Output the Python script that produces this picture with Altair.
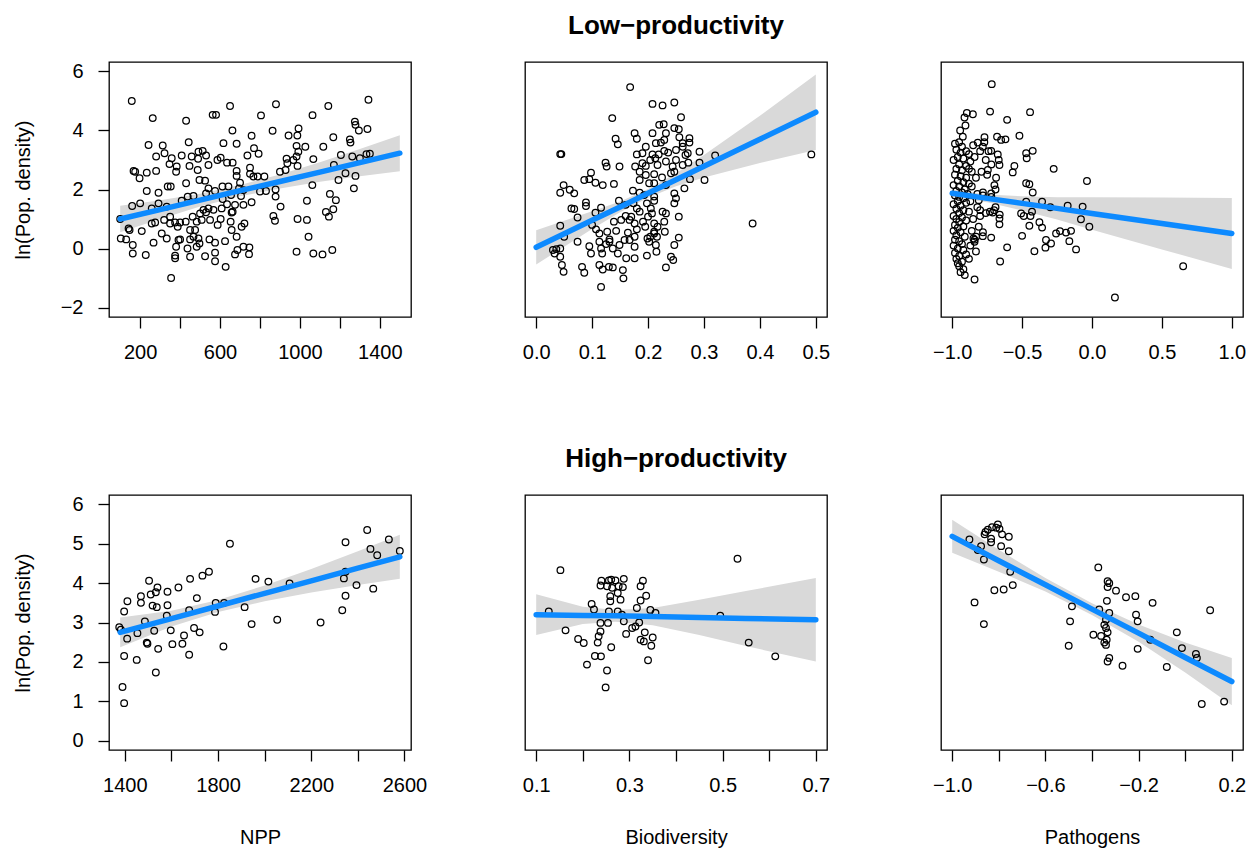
import altair as alt
import pandas as pd

FONT = "Liberation Sans"
BLUE = "#0D8AFF"
BAND = "#D9D9D9"

# ---------------- Low productivity: NPP ----------------
low_npp = [
    (158, 5.0), (650, 4.83), (880, 4.89), (1142, 4.83), (1343, 5.04), (263, 4.42), (430, 4.33),
    (563, 4.53), (580, 4.53), (805, 4.51), (1063, 4.52), (1275, 4.3), (1278, 4.19), (662, 4.0),
    (863, 3.99), (993, 4.07), (987, 3.83), (943, 3.83), (758, 3.82), (1167, 3.77), (1250, 3.7),
    (1295, 4.0), (1338, 4.05), (1253, 3.59), (242, 3.51), (313, 3.49), (443, 3.6), (617, 3.57),
    (683, 3.55), (770, 3.4), (793, 3.21), (983, 3.48), (1027, 3.45), (1117, 3.45), (992, 3.28),
    (983, 3.12), (1067, 3.03), (967, 3.0), (1205, 3.17), (1262, 3.12), (1300, 3.06), (1333, 3.2),
    (1350, 3.21), (322, 3.23), (280, 3.12), (358, 3.06), (408, 3.15), (458, 3.12), (492, 3.28),
    (513, 3.31), (530, 3.15), (490, 3.04), (347, 2.86), (383, 2.78), (447, 2.8), (488, 2.66),
    (542, 2.83), (587, 3.0), (603, 3.08), (635, 2.91), (663, 2.91), (737, 3.15), (750, 2.74),
    (683, 2.63), (683, 2.46), (750, 2.53), (933, 3.04), (937, 2.89), (900, 2.6), (928, 2.66),
    (988, 2.8), (1170, 2.83), (1228, 2.55), (1278, 2.46), (1193, 2.32), (1270, 2.04), (1150, 1.85),
    (1180, 1.64), (167, 2.63), (175, 2.6), (197, 2.38), (233, 2.57), (280, 2.63), (380, 2.6),
    (430, 2.21), (338, 2.1), (353, 2.1), (233, 1.95), (292, 1.89), (497, 2.32), (525, 2.3),
    (542, 2.04), (530, 1.87), (575, 1.95), (612, 2.1), (642, 2.1), (700, 2.23), (767, 2.44),
    (788, 2.44), (822, 2.44), (695, 2.04), (717, 1.98), (830, 1.95), (878, 2.0), (878, 1.76),
    (903, 1.42), (1062, 2.15), (1035, 1.62), (867, 1.1), (875, 0.94), (988, 1.0), (1035, 0.97),
    (1043, 0.4), (1130, 1.24), (1167, 1.33), (1145, 1.08), (160, 1.44), (200, 1.53), (258, 1.36),
    (292, 1.53), (333, 1.42), (408, 1.62), (438, 1.76), (467, 1.78), (613, 1.68), (655, 1.81),
    (705, 1.78), (717, 1.48), (758, 1.57), (663, 1.25), (675, 1.48), (100, 1.0), (142, 0.68),
    (147, 0.63), (103, 0.34), (130, 0.31), (163, 0.12), (163, -0.17), (208, 0.59), (228, -0.22),
    (258, 0.85), (275, 0.88), (267, 0.2), (308, 0.51), (333, 0.34), (320, 0.97), (350, 0.85),
    (375, 0.88), (350, 1.08), (400, 0.88), (428, 0.91), (388, 0.74), (392, 0.29), (380, 0.06),
    (375, -0.24), (375, -0.33), (355, -1.0), (400, 0.31), (437, 0.0), (450, -0.28), (450, 0.31),
    (467, 0.4), (450, 0.63), (475, 0.63), (463, 1.08), (483, 0.91), (500, 1.19), (508, 0.97),
    (517, 1.31), (530, 1.23), (542, 1.36), (550, 0.97), (492, 0.34), (497, 0.17), (483, 0.06),
    (525, -0.26), (547, 0.31), (575, 0.2), (575, -0.14), (575, -0.43), (628, -0.62), (588, 0.8),
    (603, 1.0), (567, 1.31), (625, 0.25), (653, 0.91), (658, 0.63), (683, 0.4), (675, -0.2),
    (687, -0.05), (717, 0.06), (747, 0.04), (745, -0.19), (722, 0.85), (708, 0.74), (608, 1.36),
    (635, 1.5), (658, 1.22), (800, 1.93), (983, -0.11), (1067, -0.17), (1113, -0.2), (1162, -0.05),
]
low_npp_fit_x = [100, 300, 500, 700, 900, 1100, 1300, 1500]
low_npp_fit_y = [1.00, 1.32, 1.64, 1.96, 2.27, 2.59, 2.91, 3.23]
low_npp_fit_lo = [0.55, 1.00, 1.42, 1.77, 2.03, 2.26, 2.45, 2.62]
low_npp_fit_hi = [1.45, 1.64, 1.86, 2.15, 2.51, 2.92, 3.37, 3.84]

# ---------------- Low productivity: Biodiversity ----------------
low_bio = [
    (0.168, 5.47), (0.208, 4.9), (0.226, 4.85), (0.247, 4.95), (0.259, 4.45), (0.136, 4.42),
    (0.22, 4.19), (0.228, 4.21), (0.247, 4.08), (0.255, 4.04), (0.176, 3.91), (0.18, 3.72),
    (0.208, 3.91), (0.142, 3.72), (0.146, 3.53), (0.232, 3.91), (0.229, 3.68), (0.214, 3.57),
    (0.223, 3.59), (0.256, 3.77), (0.262, 3.57), (0.274, 3.74), (0.274, 3.59), (0.196, 3.45),
    (0.18, 3.19), (0.19, 3.23), (0.208, 3.19), (0.219, 3.19), (0.229, 3.31), (0.236, 3.25),
    (0.25, 3.34), (0.262, 3.45), (0.267, 3.17), (0.271, 3.23), (0.292, 3.28), (0.32, 3.15),
    (0.492, 3.19), (0.043, 3.2), (0.045, 3.2), (0.124, 2.91), (0.126, 2.78), (0.149, 2.78),
    (0.177, 2.78), (0.19, 2.89), (0.196, 2.8), (0.204, 3.0), (0.213, 3.06), (0.217, 2.83),
    (0.232, 2.95), (0.244, 2.78), (0.25, 3.0), (0.262, 2.83), (0.272, 2.91), (0.292, 2.91),
    (0.098, 2.57), (0.086, 2.32), (0.095, 2.35), (0.106, 2.23), (0.119, 2.15), (0.139, 2.19),
    (0.185, 2.6), (0.185, 2.32), (0.196, 2.49), (0.202, 2.21), (0.211, 2.52), (0.211, 2.21),
    (0.225, 2.41), (0.241, 2.55), (0.247, 2.6), (0.275, 2.35), (0.301, 2.32), (0.232, 2.15),
    (0.265, 2.04), (0.049, 2.15), (0.043, 1.89), (0.06, 1.99), (0.068, 1.87), (0.173, 1.96),
    (0.185, 1.89), (0.193, 1.81), (0.211, 1.76), (0.198, 1.53), (0.211, 1.62), (0.247, 1.87),
    (0.247, 1.53), (0.25, 1.7), (0.089, 1.56), (0.089, 1.44), (0.063, 1.36), (0.068, 1.34),
    (0.074, 1.05), (0.106, 1.21), (0.116, 1.38), (0.148, 1.62), (0.16, 1.48), (0.174, 1.53),
    (0.18, 1.36), (0.185, 1.25), (0.205, 1.36), (0.207, 1.19), (0.2, 1.08), (0.226, 1.25),
    (0.232, 1.19), (0.255, 1.08), (0.17, 1.08), (0.167, 0.97), (0.16, 1.1), (0.139, 0.91),
    (0.152, 0.97), (0.176, 0.85), (0.18, 0.65), (0.191, 0.91), (0.195, 0.74), (0.211, 0.85),
    (0.211, 0.57), (0.217, 0.74), (0.229, 0.91), (0.23, 0.57), (0.043, 0.77), (0.05, 0.4),
    (0.1, 0.8), (0.107, 0.65), (0.113, 0.51), (0.127, 0.57), (0.131, 0.31), (0.143, 0.6),
    (0.164, 0.54), (0.167, 0.29), (0.176, 0.4), (0.199, 0.34), (0.202, 0.23), (0.204, 0.4),
    (0.211, 0.51), (0.216, 0.4), (0.255, 0.37), (0.074, 0.23), (0.113, 0.23), (0.116, 0.0),
    (0.118, -0.17), (0.125, 0.15), (0.131, 0.23), (0.137, 0.0), (0.146, -0.17), (0.149, 0.12),
    (0.158, 0.29), (0.176, 0.06), (0.214, 0.12), (0.215, -0.11), (0.247, 0.12), (0.03, -0.05),
    (0.036, -0.02), (0.033, -0.17), (0.043, 0.0), (0.043, -0.28), (0.046, -0.56), (0.049, -0.79),
    (0.095, 0.08), (0.098, -0.17), (0.113, -0.56), (0.119, -0.71), (0.13, -0.62), (0.137, -0.64),
    (0.082, -0.62), (0.086, -0.82), (0.116, -1.3), (0.155, -0.73), (0.156, -1.01), (0.161, -0.33),
    (0.176, -0.33), (0.198, -0.24), (0.232, -0.64), (0.241, -0.28), (0.245, -0.39), (0.387, 0.85),
]
low_bio_fit_x = [0.0, 0.05, 0.1, 0.15, 0.2, 0.25, 0.3, 0.4, 0.5]
low_bio_fit_y = [0.04, 0.50, 0.96, 1.41, 1.87, 2.33, 2.79, 3.70, 4.62]
low_bio_fit_lo = [-0.54, 0.06, 0.66, 1.23, 1.72, 2.11, 2.41, 2.90, 3.34]
low_bio_fit_hi = [0.62, 0.94, 1.26, 1.59, 2.02, 2.55, 3.17, 4.50, 5.90]

# ---------------- Low productivity: Pathogens ----------------
low_path = [
    (-0.717, 5.57), (-0.729, 4.64), (-0.443, 4.62), (-0.607, 4.36), (-0.895, 4.59), (-0.852, 4.55),
    (-0.912, 4.44), (-0.905, 4.17), (-0.943, 4.0), (-0.924, 3.79), (-0.769, 3.77), (-0.679, 3.79),
    (-0.65, 3.68), (-0.619, 3.7), (-0.519, 3.82), (-0.817, 3.59), (-0.781, 3.45), (-0.721, 3.31),
    (-0.674, 3.19), (-0.667, 3.0), (-0.662, 2.83), (-0.471, 3.23), (-0.424, 3.31), (-0.467, 3.06),
    (-0.555, 2.8), (-0.567, 2.58), (-0.274, 2.7), (-0.745, 2.66), (-0.686, 2.4), (-0.698, 2.15),
    (-0.471, 2.21), (-0.448, 2.18), (-0.424, 1.9), (-0.036, 2.29), (-0.721, 1.87), (-0.69, 2.0),
    (-0.81, 1.64), (-0.471, 1.59), (-0.429, 1.25), (-0.507, 1.19), (-0.357, 1.59), (-0.298, 1.4),
    (-0.174, 1.45), (-0.067, 1.42), (-0.488, 1.1), (-0.44, 1.1), (-0.079, 0.99), (-0.019, 0.74),
    (-0.376, 0.89), (-0.357, 0.71), (-0.448, 0.77), (-0.5, 0.43), (-0.257, 0.51), (-0.229, 0.59),
    (-0.186, 0.54), (-0.15, 0.6), (-0.329, 0.29), (-0.293, 0.17), (-0.333, 0.03), (-0.162, 0.25),
    (-0.114, -0.03), (-0.412, -0.09), (-0.607, 0.04), (-0.657, -0.44), (-0.781, 0.42), (-0.721, 0.37),
    (-0.71, 1.22), (-0.662, 1.02), (-0.662, 0.82), (-0.848, 0.34), (-0.84, 0.23), (-0.829, 0.4),
    (-0.81, 0.74), (-0.84, -1.05), (0.652, -0.6), (0.164, -1.66),
    (-0.98, 3.55), (-0.95, 3.6), (-0.93, 3.45), (-0.97, 3.35), (-0.94, 3.25), (-0.9, 3.3),
    (-0.88, 3.2), (-0.96, 3.1), (-0.99, 3.0), (-0.92, 3.05), (-0.87, 2.95), (-0.95, 2.85),
    (-0.9, 2.8), (-0.97, 2.7), (-0.93, 2.65), (-0.86, 2.6), (-0.98, 2.5), (-0.94, 2.45),
    (-0.9, 2.4), (-0.96, 2.3), (-0.92, 2.25), (-0.88, 2.2), (-0.99, 2.15), (-0.95, 2.1),
    (-0.91, 2.0), (-0.97, 1.95), (-0.93, 1.9), (-0.89, 1.85), (-0.98, 1.8), (-0.95, 1.75),
    (-0.92, 1.7), (-0.96, 1.6), (-0.9, 1.55), (-0.99, 1.5), (-0.94, 1.45), (-0.97, 1.35),
    (-0.92, 1.3), (-0.88, 1.25), (-0.95, 1.2), (-0.99, 1.1), (-0.93, 1.05), (-0.97, 1.0),
    (-0.9, 0.95), (-0.95, 0.9), (-0.98, 0.8), (-0.92, 0.75), (-0.96, 0.7), (-0.99, 0.6),
    (-0.94, 0.55), (-0.97, 0.45), (-0.91, 0.4), (-0.98, 0.3), (-0.95, 0.25), (-0.93, 0.15),
    (-0.99, 0.1), (-0.96, 0.0), (-0.92, -0.05), (-0.98, -0.15), (-0.95, -0.25), (-0.9, -0.2),
    (-0.97, -0.35), (-0.93, -0.45), (-0.95, -0.6), (-0.92, -0.7), (-0.94, -0.8), (-0.91, -0.9),
    (-0.96, -0.5), (-0.88, -0.35), (-0.87, 0.1), (-0.86, 0.6), (-0.85, 1.0), (-0.87, 1.6),
    (-0.86, 2.1), (-0.88, 2.7), (-0.84, 3.1), (-0.85, 3.5), (-0.83, 2.4), (-0.82, 1.4),
    (-0.84, 0.3), (-0.83, -0.1), (-0.8, 3.3), (-0.79, 2.6), (-0.78, 1.9), (-0.76, 3.0),
    (-0.75, 2.5), (-0.77, 3.6), (-0.8, 1.1), (-0.78, 0.55), (-0.74, 3.3), (-0.72, 2.85),
    (-0.7, 1.3), (-0.8, 1.3), (-0.76, 1.2), (-0.73, 1.25), (-0.69, 1.4), (-0.66, 1.15),
    (-0.82, 1.85), (-0.78, 1.8), (-0.72, 1.75),
]
low_path_fit_x = [-1.0, -0.75, -0.5, -0.25, 0.0, 0.5, 1.0]
low_path_fit_y = [1.87, 1.70, 1.53, 1.36, 1.19, 0.85, 0.51]
low_path_fit_lo = [1.74, 1.57, 1.29, 0.98, 0.64, -0.03, -0.69]
low_path_fit_hi = [2.00, 1.83, 1.77, 1.74, 1.74, 1.73, 1.71]

# ---------------- High productivity: NPP ----------------
high_npp = [
    (2440, 5.35), (2347, 5.04), (1851, 5.0), (2533, 5.11), (2454, 4.87), (2483, 4.71), (2580, 4.82),
    (2347, 4.29), (2340, 4.12), (2394, 3.95), (2466, 3.86), (2347, 3.68), (2333, 3.31), (2240, 3.0),
    (2107, 3.99), (2016, 4.04), (1961, 4.11), (2054, 3.07), (1944, 2.96), (1914, 3.39), (1790, 3.5),
    (1787, 3.27), (1826, 3.5), (1823, 2.39), (1733, 4.19), (1761, 4.29), (1680, 4.11), (1709, 3.62),
    (1676, 3.31), (1697, 2.86), (1721, 2.75), (1676, 2.18), (1654, 2.67), (1647, 2.46), (1630, 3.89),
    (1604, 2.45), (1597, 2.8), (1583, 3.78), (1583, 3.44), (1580, 3.17), (1504, 4.06), (1511, 3.71),
    (1533, 3.77), (1540, 3.89), (1519, 3.43), (1537, 3.39), (1469, 3.67), (1469, 3.5), (1526, 2.79),
    (1543, 2.33), (1533, 1.73), (1486, 3.03), (1494, 2.49), (1497, 2.46), (1454, 2.73), (1451, 2.05),
    (1411, 3.54), (1397, 3.28), (1376, 2.88), (1383, 2.82), (1410, 2.59), (1397, 2.15), (1390, 1.36),
    (1397, 0.95),
]
high_npp_fit_x = [1380, 1600, 1800, 2000, 2200, 2400, 2580]
high_npp_fit_y = [2.75, 3.10, 3.42, 3.74, 4.06, 4.38, 4.67]
high_npp_fit_lo = [2.37, 2.90, 3.27, 3.54, 3.76, 3.95, 4.11]
high_npp_fit_hi = [3.13, 3.30, 3.57, 3.94, 4.36, 4.81, 5.23]

# ---------------- High productivity: Biodiversity ----------------
high_bio = [
    (0.532, 4.62), (0.152, 4.33), (0.24, 4.06), (0.238, 3.94), (0.256, 4.07), (0.261, 4.09),
    (0.27, 4.07), (0.288, 4.11), (0.286, 3.9), (0.252, 3.92), (0.263, 3.88), (0.277, 3.92),
    (0.329, 4.06), (0.324, 3.92), (0.275, 3.75), (0.281, 3.58), (0.259, 3.67), (0.259, 3.54),
    (0.336, 3.68), (0.324, 3.56), (0.219, 3.47), (0.316, 3.37), (0.224, 3.33), (0.127, 3.28),
    (0.256, 3.28), (0.275, 3.28), (0.284, 3.2), (0.288, 3.03), (0.238, 2.99), (0.254, 2.99),
    (0.345, 3.32), (0.356, 3.24), (0.321, 3.0), (0.313, 2.9), (0.306, 2.86), (0.495, 3.17),
    (0.163, 2.8), (0.293, 2.71), (0.333, 2.75), (0.324, 2.56), (0.331, 2.52), (0.35, 2.62),
    (0.347, 2.41), (0.238, 2.77), (0.234, 2.65), (0.232, 2.49), (0.19, 2.58), (0.202, 2.48),
    (0.261, 2.37), (0.226, 2.15), (0.239, 2.14), (0.209, 1.93), (0.34, 2.04), (0.252, 1.78),
    (0.249, 1.35), (0.556, 2.49), (0.613, 2.14),
]
high_bio_fit_x = [0.1, 0.2, 0.27, 0.35, 0.45, 0.55, 0.7]
high_bio_fit_y = [3.20, 3.18, 3.17, 3.15, 3.13, 3.10, 3.07]
high_bio_fit_lo = [2.68, 2.96, 3.02, 2.93, 2.68, 2.40, 2.01]
high_bio_fit_hi = [3.72, 3.40, 3.32, 3.37, 3.58, 3.80, 4.13]

# ---------------- High productivity: Pathogens ----------------
high_path = [
    (-0.804, 5.49), (-0.811, 5.41), (-0.829, 5.42), (-0.847, 5.36), (-0.857, 5.3), (-0.861, 5.24),
    (-0.797, 5.38), (-0.833, 5.13), (-0.833, 5.04), (-0.926, 5.11), (-0.876, 4.94), (-0.89, 4.84),
    (-0.786, 5.24), (-0.757, 5.18), (-0.79, 4.94), (-0.757, 4.81), (-0.864, 4.6), (-0.751, 4.29),
    (-0.74, 3.95), (-0.819, 3.82), (-0.779, 3.84), (-0.904, 3.51), (-0.864, 2.96), (-0.373, 4.4),
    (-0.333, 4.05), (-0.326, 4.0), (-0.333, 3.9), (-0.297, 3.81), (-0.254, 3.64), (-0.214, 3.67),
    (-0.14, 3.5), (-0.336, 3.55), (-0.486, 3.41), (-0.369, 3.33), (-0.326, 3.24), (-0.494, 3.03),
    (-0.211, 3.2), (-0.204, 3.03), (-0.34, 3.07), (-0.347, 2.94), (-0.34, 2.86), (-0.333, 2.75),
    (-0.394, 2.69), (-0.361, 2.66), (-0.337, 2.56), (-0.347, 2.49), (-0.34, 2.43), (-0.5, 2.41),
    (-0.15, 2.56), (-0.204, 2.33), (-0.036, 2.75), (-0.014, 2.35), (0.046, 2.2), (0.05, 2.1),
    (0.107, 3.31), (-0.079, 1.87), (-0.326, 2.1), (-0.333, 2.01), (-0.269, 1.9), (0.071, 0.93),
    (0.167, 0.99),
]
high_path_fit_x = [-1.0, -0.8, -0.6, -0.4, -0.2, 0.0, 0.2]
high_path_fit_y = [5.19, 4.57, 3.96, 3.34, 2.73, 2.11, 1.50]
high_path_fit_lo = [4.77, 4.29, 3.79, 3.19, 2.51, 1.73, 0.90]
high_path_fit_hi = [5.61, 4.85, 4.13, 3.49, 2.95, 2.49, 2.10]

# ---------------- axes ----------------
low_y_ticks = [-2, 0, 2, 4, 6]
high_y_ticks = [0, 1, 2, 3, 4, 5, 6]
npp_low_ticks = [200, 400, 600, 800, 1000, 1200, 1400]
bio_low_ticks = [0.0, 0.1, 0.2, 0.3, 0.4, 0.5]
path_low_ticks = [-1.0, -0.5, 0.0, 0.5, 1.0]
npp_high_ticks = [1400, 1600, 1800, 2000, 2200, 2400, 2600]
bio_high_ticks = [0.1, 0.2, 0.3, 0.4, 0.5, 0.6, 0.7]
path_high_ticks = [-1.0, -0.8, -0.6, -0.4, -0.2, 0.0, 0.2]

W, H = 302, 255


def panel(points, fx, fy, flo, fhi, xdom, xticks, xfmt, xexpr, ydom, yticks, show_y, xtitle, title):
    pts = pd.DataFrame(points, columns=["x", "y"])
    fit = pd.DataFrame({"x": fx, "fit": fy, "lo": flo, "hi": fhi})
    ax = dict(values=xticks, format=xfmt, labelFlush=False, labelOverlap=False,
              tickSize=11, labelPadding=14, titlePadding=32)
    if xexpr:
        ax["labelExpr"] = xexpr
    xs = alt.Scale(domain=xdom, nice=False, zero=False)
    ys = alt.Scale(domain=ydom, nice=False, zero=False)
    if xtitle:
        xenc = lambda f: alt.X(f, scale=xs, axis=alt.Axis(**ax), title=xtitle)
    else:
        xenc = lambda f: alt.X(f, scale=xs, axis=alt.Axis(**ax), title=None)
    if show_y:
        yax = alt.Axis(values=yticks, format="d", labelFlush=False, labelOverlap=False,
                       tickSize=11, labelPadding=15, titleAngle=270, titleBaseline="bottom",
                       titleX=-76)
        yenc = lambda f: alt.Y(f, scale=ys, axis=yax, title="ln(Pop. density)")
    else:
        yenc = lambda f: alt.Y(f, scale=ys, axis=None)
    band = alt.Chart(fit).mark_area(color=BAND, opacity=1).encode(
        x=xenc("x:Q"), y=yenc("lo:Q"), y2="hi:Q")
    dots = alt.Chart(pts).mark_point(shape="circle", filled=False, color="black",
                                     size=44, strokeWidth=1.25, opacity=1).encode(
        x=xenc("x:Q"), y=yenc("y:Q"))
    line = alt.Chart(fit).mark_line(color=BLUE, strokeWidth=5.5, strokeCap="round").encode(
        x=xenc("x:Q"), y=yenc("fit:Q"))
    ch = alt.layer(band, dots, line).properties(width=W, height=H)
    if title:
        ch = ch.properties(title=title)
    return ch


LOW_Y = [-2.32, 6.32]
HIGH_Y = [-0.24, 6.24]

p1 = panel(low_npp, low_npp_fit_x, low_npp_fit_y, low_npp_fit_lo, low_npp_fit_hi,
           [44, 1556], npp_low_ticks, "d", "datum.value % 400 == 200 ? datum.label : ''",
           LOW_Y, low_y_ticks, True, None, None)
p2 = panel(low_bio, low_bio_fit_x, low_bio_fit_y, low_bio_fit_lo, low_bio_fit_hi,
           [-0.02, 0.52], bio_low_ticks, ".1f", None,
           LOW_Y, low_y_ticks, False, None, "Low\u2212productivity")
p3 = panel(low_path, low_path_fit_x, low_path_fit_y, low_path_fit_lo, low_path_fit_hi,
           [-1.08, 1.08], path_low_ticks, ".1f", None,
           LOW_Y, low_y_ticks, False, None, None)
p4 = panel(high_npp, high_npp_fit_x, high_npp_fit_y, high_npp_fit_lo, high_npp_fit_hi,
           [1332, 2628], npp_high_ticks, "d", "(datum.value - 1400) % 400 == 0 ? datum.label : ''",
           HIGH_Y, high_y_ticks, True, "NPP", None)
p5 = panel(high_bio, high_bio_fit_x, high_bio_fit_y, high_bio_fit_lo, high_bio_fit_hi,
           [0.076, 0.724], bio_high_ticks, ".1f", "round(datum.value * 10) % 2 == 1 ? datum.label : ''",
           HIGH_Y, high_y_ticks, False, "Biodiversity", "High\u2212productivity")
p6 = panel(high_path, high_path_fit_x, high_path_fit_y, high_path_fit_lo, high_path_fit_hi,
           [-1.048, 0.248], path_high_ticks, ".1f",
           "(round(datum.value * 10) + 10) % 4 == 0 ? datum.label : ''",
           HIGH_Y, high_y_ticks, False, "Pathogens", None)

chart = alt.concat(p1, p2, p3, p4, p5, p6, columns=3,
                   spacing=alt.RowColnumber(row=178, column=114), bounds="flush").properties(
    padding={"left": 12, "top": 12, "right": 5, "bottom": 0},
    background="white",
).configure_view(
    stroke="black", strokeWidth=1.3
).configure_axis(
    labelFont=FONT, labelFontSize=20, labelColor="black",
    titleFont=FONT, titleFontSize=20, titleFontWeight="normal", titleColor="black",
    tickColor="black", tickWidth=1.3, domain=False, grid=False,
).configure_title(
    font=FONT, fontSize=26, fontWeight="bold", color="black", offset=23, anchor="middle"
)

chart.save("out.html", embed_options={"renderer": "svg", "actions": False})
